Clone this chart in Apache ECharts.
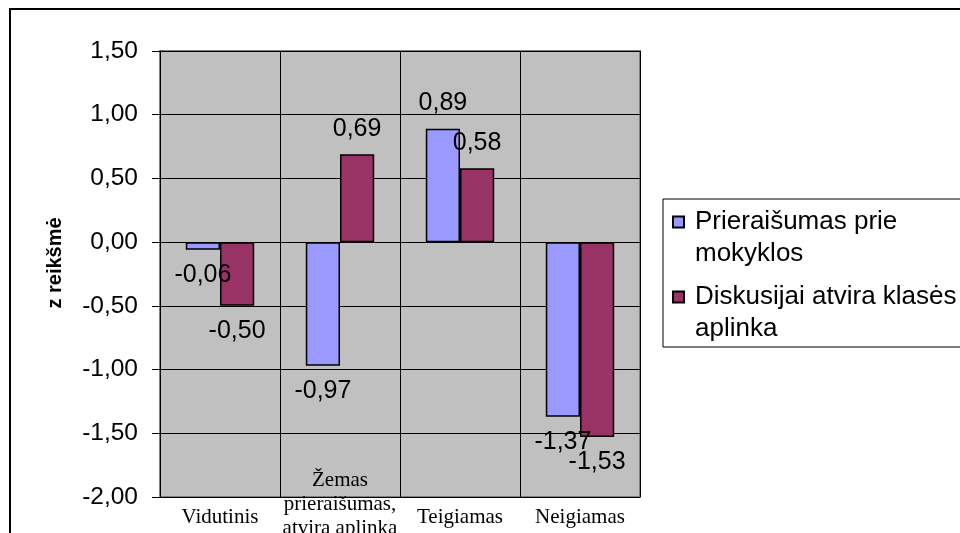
<!DOCTYPE html>
<html>
<head>
<meta charset="utf-8">
<script src="https://cdn.jsdelivr.net/npm/echarts@6/dist/echarts.min.js"></script>
<style>
  html, body { margin: 0; padding: 0; background: #fff; }
  #chart { width: 960px; height: 533px; }
</style>
</head>
<body>
<div id="chart"></div>
<script>
  // data
  var categories = ['Vidutinis', 'Žemas\nprieraišumas,\natvira aplinka', 'Teigiamas', 'Neigiamas'];
  var seriesNames = ['Prieraišumas prie mokyklos', 'Diskusijai atvira klasės aplinka'];
  // leading blank line keeps the first text line level with the legend square
  var legendText = [' \nPrieraišumas prie\nmokyklos', ' \nDiskusijai atvira klasės\naplinka'];
  var attachment = [-0.06, -0.97, 0.89, -1.37];
  var openClass = [-0.50, 0.69, 0.58, -1.53];
  var yTicks = { min: -2, max: 1.5, step: 0.5 };

  var sans = '"Liberation Sans", Arial, sans-serif';
  var serif = '"Liberation Serif", "Times New Roman", serif';

  function fmt(v) {
    return v.toFixed(2).replace('.', ',');
  }

  // label above positive bars, below negative ones (like Excel's outside end)
  function toItems(values) {
    return values.map(function(v) {
      return { value: v, label: { position: v < 0 ? 'bottom' : 'top' } };
    });
  }

  var barLabel = {
    show: true,
    distance: 13,
    color: '#000',
    fontFamily: sans,
    fontSize: 25,
    formatter: function(p) { return fmt(p.value); }
  };

  var xLabel = {
    interval: 0,
    verticalAlign: 'top',
    lineHeight: 24,
    fontFamily: serif,
    fontSize: 21,
    color: '#000'
  };

  var chart = echarts.init(document.getElementById('chart'));
  var option = {
    backgroundColor: '#fff',
    animation: false,
    graphic: [
      {
        type: 'rect',
        z: -10,
        shape: { x: 10, y: 9, width: 1200, height: 800 },
        style: { fill: 'none', stroke: '#000', lineWidth: 2 }
      },
      {
        type: 'rect',
        z: -5,
        shape: { x: 663, y: 199, width: 400, height: 148 },
        style: { fill: '#fff', stroke: '#000', lineWidth: 1 }
      }
    ],
    grid: {
      left: 160,
      right: 320,
      top: 51,
      bottom: 36,
      outerBoundsMode: 'none',
      show: true,
      backgroundColor: '#c0c0c0',
      borderColor: '#808080',
      borderWidth: 2
    },
    legend: {
      orient: 'vertical',
      left: 672,
      top: 174,
      padding: 0,
      itemGap: -21,
      itemWidth: 11,
      itemHeight: 11,
      icon: 'rect',
      data: seriesNames,
      formatter: function(name) {
        return legendText[seriesNames.indexOf(name)];
      },
      textStyle: {
        fontFamily: sans,
        fontSize: 26,
        lineHeight: 32,
        color: '#000',
        padding: [0, 0, 0, 6]
      }
    },
    xAxis: [
      {
        type: 'category',
        data: categories,
        axisLine: { show: false },
        axisTick: { show: false },
        splitLine: { show: true, lineStyle: { color: '#000', width: 1 } },
        axisLabel: Object.assign({}, xLabel, {
          margin: 8,
          formatter: function(v) { return v.indexOf('\n') > -1 ? '' : v; }
        })
      },
      {
        type: 'category',
        position: 'bottom',
        data: categories,
        axisLine: { show: false },
        axisTick: { show: false },
        splitLine: { show: false },
        axisLabel: Object.assign({}, xLabel, {
          margin: -29,
          formatter: function(v) { return v.indexOf('\n') > -1 ? v : ''; }
        })
      }
    ],
    yAxis: {
      type: 'value',
      min: yTicks.min,
      max: yTicks.max,
      interval: yTicks.step,
      name: 'z reikšmė',
      nameLocation: 'middle',
      nameGap: 95,
      nameTextStyle: {
        fontFamily: sans,
        fontSize: 20,
        fontWeight: 'bold',
        color: '#000',
        padding: [0, 0, 0, 22]
      },
      axisLine: { show: true, lineStyle: { color: '#000', width: 1 } },
      axisTick: { show: true, inside: false, length: 8, lineStyle: { color: '#000' } },
      splitLine: { show: true, lineStyle: { color: '#000', width: 1 } },
      axisLabel: {
        margin: 22,
        fontFamily: sans,
        fontSize: 24.5,
        color: '#000',
        formatter: function(v) { return fmt(v); }
      }
    },
    series: [
      {
        name: seriesNames[0],
        type: 'bar',
        xAxisIndex: 0,
        barGap: '0%',
        barCategoryGap: '43%',
        itemStyle: { color: '#9999ff', borderColor: '#000', borderWidth: 1.5 },
        label: barLabel,
        data: toItems(attachment)
      },
      {
        name: seriesNames[1],
        type: 'bar',
        xAxisIndex: 0,
        barGap: '0%',
        barCategoryGap: '43%',
        itemStyle: { color: '#993366', borderColor: '#000', borderWidth: 1.5 },
        label: barLabel,
        data: toItems(openClass)
      }
    ]
  };
  chart.setOption(option);
</script>
</body>
</html>
